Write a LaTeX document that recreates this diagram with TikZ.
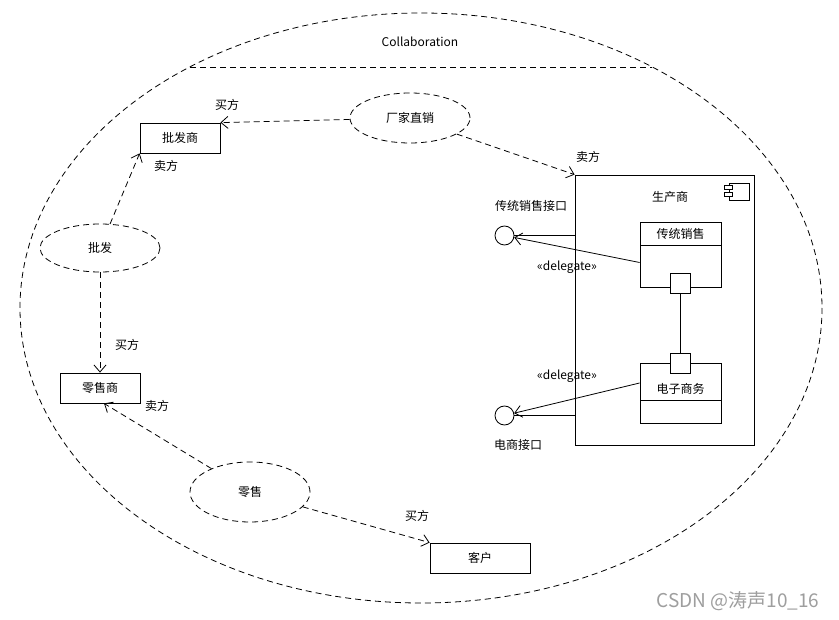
\documentclass[tikz,border=0pt]{standalone}
\usepackage{fontspec}
\setmainfont{Noto Sans CJK SC}
\usetikzlibrary{arrows.meta,shapes.geometric}
\begin{document}
\begin{tikzpicture}[x=1pt,y=-1pt,
  font=\fontsize{12}{14}\selectfont,
  line width=0.8pt,
  dsh/.style={dash pattern=on 6pt off 4pt},
  box/.style={draw,rectangle,minimum width=80pt,minimum height=30pt,inner sep=0pt},
  uc/.style={draw,ellipse,dsh,minimum width=120pt,inner sep=0pt},
  port/.style={draw,rectangle,fill=white,minimum size=20pt,inner sep=0pt},
  iface/.style={draw,circle,minimum size=19pt,inner sep=0pt},
  rel/.style={dsh,-{Straight Barb[length=7pt,width=12pt]}},
  dlg/.style={-{Straight Barb[length=7pt,width=12pt]}},
  lbl/.style={inner sep=1pt}]
\useasboundingbox (0,0) rectangle (839,620);
\fill[white] (0,0) rectangle (839,620);
% collaboration
\draw[dsh] (421,308) ellipse [x radius=401, y radius=295];
\coordinate (chl) at (190,67);
\coordinate (chr) at (652,67);
\draw[dsh] (chl) -- (chr);
\node[lbl] (collab) at (420,42) {Collaboration};
% boxes
\node[box] (pfs) at (180,138) {批发商};
\node[box] (rs) at (100,388) {零售商};
\node[box,minimum width=100pt] (kh) at (480,558) {客户};
% use cases
\node[uc,minimum height=50pt] (cj) at (410,118) {厂家直销};
\node[uc,minimum height=48pt] (pf) at (100,248) {批发};
\node[uc,minimum height=60pt] (ls) at (250,492) {零售};
% producer component
\node[draw,rectangle,minimum width=179pt,minimum height=270pt,inner sep=0pt] (scs) at (664.5,310) {};
\node[lbl] (scsl) at (670,197) {生产商};
\node[draw,rectangle,minimum width=20pt,minimum height=17pt,inner sep=0pt] (icon) at (739,191.5) {};
\node[draw,rectangle,fill=white,minimum width=8pt,minimum height=4pt,inner sep=0pt] (tab1) at (icon.west |- 0,187.5) {};
\node[draw,rectangle,fill=white,minimum width=8pt,minimum height=4pt,inner sep=0pt] (tab2) at (icon.west |- 0,194.8) {};
% inner parts
\node[draw,rectangle,minimum width=81pt,minimum height=65pt,inner sep=0pt] (ct) at (680.5,254.5) {};
\coordinate (ctsl) at (640,245.5);
\coordinate (ctsr) at (721,245.5);
\draw (ctsl) -- (ctsr);
\node[lbl] (ctl) at (680.5,234) {传统销售};
\node[draw,rectangle,minimum width=81pt,minimum height=60pt,inner sep=0pt] (ds) at (680.5,393) {};
\coordinate (dssl) at (640,400);
\coordinate (dssr) at (721,400);
\draw (dssl) -- (dssr);
\node[lbl] (dsl) at (680.5,389) {电子商务};
\node[port] (p1) at (680,283) {};
\node[port] (p2) at (680,363) {};
\draw (p1) -- (p2);
% interfaces
\node[iface] (c1) at (504.5,235.5) {};
\node[iface] (c2) at (504.5,415.5) {};
\draw (c1) -- (c1 -| scs.west);
\draw (c2) -- (c2 -| scs.west);
\node[lbl] (c1l) at (531,206) {传统销售接口};
\node[lbl] (c2l) at (518,445) {电商接口};
\draw[dlg] ([yshift=-8pt]ct.west) -- (c1);
\draw[dlg] ([yshift=10pt]ds.west) -- (c2);
\node[lbl] (d1) at (567,267) {«delegate»};
\node[lbl] (d2) at (567,376) {«delegate»};
% relations
\draw[rel] (cj) -- (pfs.north east);
\draw[rel] (cj) -- (scs.north west);
\draw[rel] (pf) -- (pfs.south west);
\draw[rel] (pf.south) -- (rs.north);
\draw[rel] (ls) -- ([xshift=4pt]rs.south);
\draw[rel] (ls) -- (kh.north west);
% role labels
\node[lbl] (r1) at (227,105) {买方};
\node[lbl] (r2) at (166,166) {卖方};
\node[lbl] (r3) at (588,157) {卖方};
\node[lbl] (r4) at (127,345) {买方};
\node[lbl] (r5) at (157,406) {卖方};
\node[lbl] (r6) at (417,516) {买方};
% watermark
\node[lbl,text=black!38,font=\fontsize{19}{21}\selectfont] (wm) at (738,601) {CSDN @涛声10\_16};
\end{tikzpicture}
\end{document}
